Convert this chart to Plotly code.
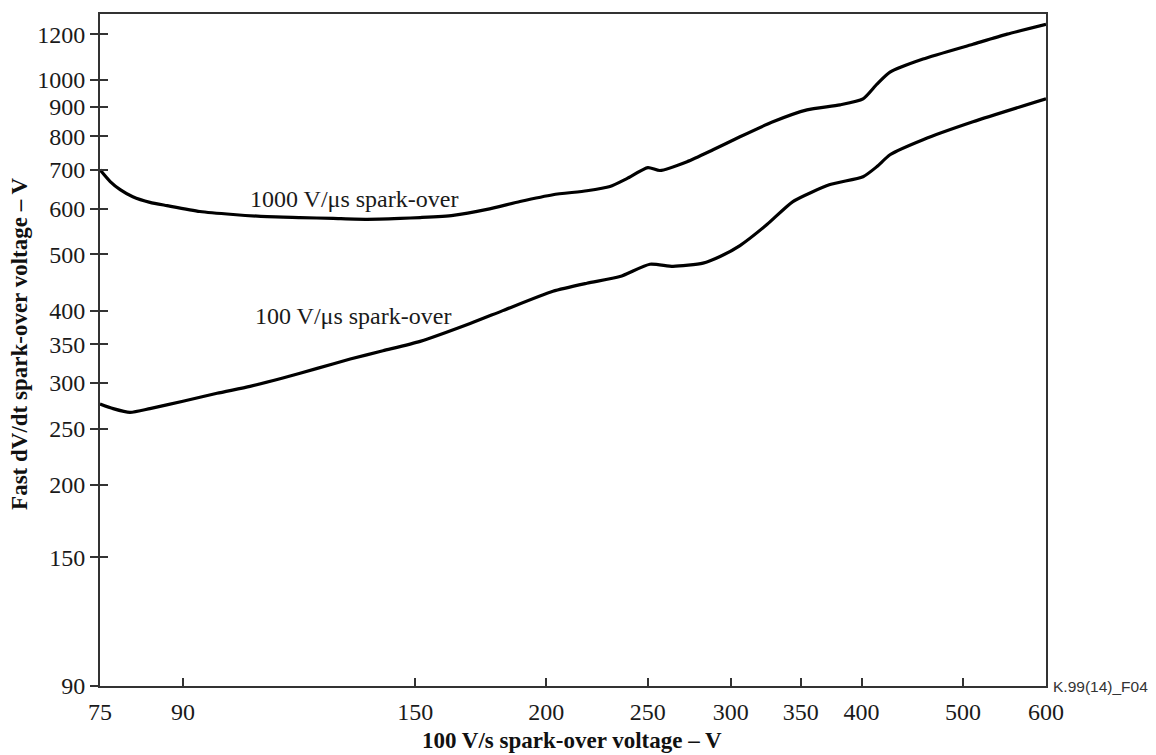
import plotly.graph_objects as go
import math

# 1000 V/us spark-over curve
x_fast = [75, 76.7, 78.4, 80.6, 83.7, 86.9, 93.4, 100.5, 108.3, 116.4, 125.2, 134.9, 145.1,
          151.6, 163.0, 175.6, 188.8, 203.0, 218.7, 230.1, 238.8, 250.1, 256.8, 272.6, 288.6,
          306.2, 329.2, 354.8, 381.5, 401.3, 413.8, 425.8, 457.9, 511.0, 550.8, 600]
y_fast = [700, 668, 647, 629, 615, 607, 593, 586, 581, 579, 577, 575, 577,
          579, 584, 598, 617, 634, 644, 655, 676, 706, 698, 723, 758,
          798, 847, 888, 906, 928, 984, 1032, 1087, 1153, 1200, 1248]

# 100 V/us spark-over curve
x_slow = [75, 77.2, 80.1, 83.7, 90.0, 97.0, 104.3, 112.1, 120.9, 130.0, 139.7, 151.6, 169.2,
          181.8, 203.0, 218.7, 235.2, 251.2, 264.3, 282.3, 293.1, 306.2, 324.9, 344.0, 373.2,
          401.3, 413.8, 425.8, 457.9, 511.0, 600]
y_slow = [276, 271, 267, 271, 279, 288, 296, 306, 318, 330, 341, 354, 380,
          400, 432, 446, 458, 481, 477, 483, 496, 518, 563, 617, 660,
          681, 709, 743, 789, 847, 928]

x_ticks = [75, 90, 150, 200, 250, 300, 350, 400, 500, 600]
y_ticks = [90, 150, 200, 250, 300, 350, 400, 500, 600, 700, 800, 900, 1000, 1200]

x_range = [75, 600]
y_range = [90, 1300]

label_fast = "1000 V/\u03bcs spark-over"
label_slow = "100 V/\u03bcs spark-over"
x_title = "<b>100 V/s spark-over voltage \u2013 V</b>"
y_title = "<b>Fast dV/dt spark-over voltage \u2013 V</b>"
figure_id = "K.99(14)_F04"

SERIF = "Liberation Serif, Times New Roman, serif"
AX = "#333333"

fig = go.Figure()
fig.add_trace(go.Scatter(x=x_fast, y=y_fast, mode="lines",
                         line=dict(color="black", width=3.2, shape="spline", smoothing=0.6),
                         hoverinfo="skip", showlegend=False))
fig.add_trace(go.Scatter(x=x_slow, y=y_slow, mode="lines", yaxis="y2",
                         line=dict(color="black", width=3.2, shape="spline", smoothing=0.6),
                         hoverinfo="skip", showlegend=False))

ylog = [math.log10(v) for v in y_range]
xlog = [math.log10(v) for v in x_range]

fig.update_layout(
    width=1156, height=755,
    margin=dict(l=100, r=110, t=12, b=69),
    paper_bgcolor="white", plot_bgcolor="white",
    font=dict(family=SERIF, size=24, color="#1a1a1a"),
    xaxis=dict(type="log", range=xlog, tickvals=x_ticks, ticktext=[str(v) for v in x_ticks],
               ticks="inside", ticklen=8, tickwidth=1.5, tickcolor=AX,
               showline=True, linecolor=AX, linewidth=2, mirror=True,
               showgrid=False, zeroline=False, ticklabelstandoff=3),
    yaxis=dict(type="log", range=ylog, tickvals=y_ticks, ticktext=[str(v) for v in y_ticks],
               ticks="outside", ticklen=8, tickwidth=1.5, tickcolor=AX,
               showline=True, linecolor=AX, linewidth=2, mirror=True,
               showgrid=False, zeroline=False),
    yaxis2=dict(type="log", range=ylog, overlaying="y", side="left", anchor="x",
                tickvals=y_ticks, ticks="inside", ticklen=8, tickwidth=1.5, tickcolor=AX,
                showticklabels=False, showline=False, showgrid=False, zeroline=False),
)

fig.add_annotation(x=math.log10(103.8), y=math.log10(624), xref="x", yref="y",
                   text=label_fast, showarrow=False, xanchor="left", yanchor="middle",
                   font=dict(family=SERIF, size=24, color="#1a1a1a"))
fig.add_annotation(x=math.log10(105), y=math.log10(391), xref="x", yref="y",
                   text=label_slow, showarrow=False, xanchor="left", yanchor="middle",
                   font=dict(family=SERIF, size=24, color="#1a1a1a"))
fig.add_annotation(x=0.499, y=-0.0816, xref="paper", yref="paper", text=x_title,
                   showarrow=False, xanchor="center", yanchor="middle",
                   font=dict(family=SERIF, size=23, color="#111111"))
fig.add_annotation(x=-0.0846, y=0.509, xref="paper", yref="paper", text=y_title,
                   showarrow=False, xanchor="center", yanchor="middle", textangle=-90,
                   font=dict(family=SERIF, size=23, color="#111111"))
fig.add_annotation(x=1.005, y=0.0, xref="paper", yref="paper", text=figure_id,
                   showarrow=False, xanchor="left", yanchor="middle",
                   font=dict(family="Liberation Sans, Arial, sans-serif", size=15.5, color="#333333"))

fig.write_html("out.html")
